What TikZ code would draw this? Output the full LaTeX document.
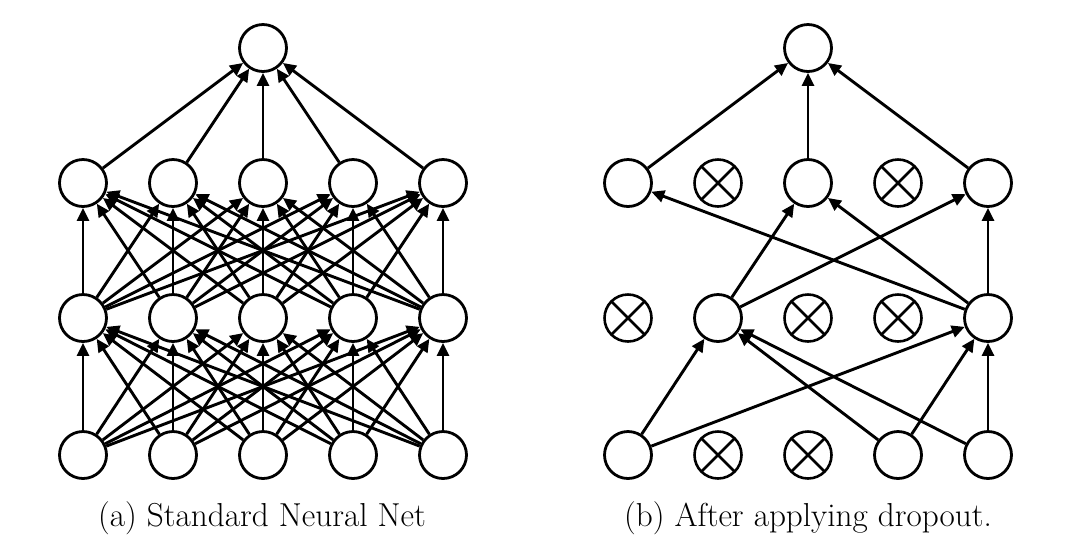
\documentclass[tikz,border=0pt]{standalone}
\usetikzlibrary{arrows.meta}
\begin{document}
\begin{tikzpicture}[x=0.5pt,y=-0.5pt,
  neuron/.style={circle,draw,line width=1.4pt,minimum size=23.5pt,inner sep=0pt,fill=white},
  dropped/.style={circle,draw,line width=1.3pt,minimum size=23.5pt,inner sep=0pt,
    path picture={\draw[line width=1.3pt] (path picture bounding box.north west)--(path picture bounding box.south east) (path picture bounding box.north east)--(path picture bounding box.south west);}},
  conn/.style={line width=1.45pt,-{Triangle[length=6.5pt,width=6pt]}},
  caption/.style={font=\fontsize{16.6}{19}\selectfont,anchor=base}]
\useasboundingbox (0,0) rectangle (1075,548);
% left network
\foreach \i/\x in {1/83,2/173,3/263,4/353,5/443}{
  \node[neuron] (La\i) at (\x,455) {};
  \node[neuron] (Lb\i) at (\x,318) {};
  \node[neuron] (Lc\i) at (\x,183) {};
}
\node[neuron] (Lt) at (263,48) {};
\foreach \i in {1,...,5}{
  \foreach \j in {1,...,5}{
    \draw[conn] (La\i) -- (Lb\j);
    \draw[conn] (Lb\i) -- (Lc\j);
  }
  \draw[conn] (Lc\i) -- (Lt);
}
% right network
\node[neuron] (Ra1) at (628,455) {};
\node[dropped] (Ra2) at (718,455) {};
\node[dropped] (Ra3) at (808,455) {};
\node[neuron] (Ra4) at (898,455) {};
\node[neuron] (Ra5) at (988,455) {};
\node[dropped] (Rb1) at (628,318) {};
\node[neuron] (Rb2) at (718,318) {};
\node[dropped] (Rb3) at (808,318) {};
\node[dropped] (Rb4) at (898,318) {};
\node[neuron] (Rb5) at (988,318) {};
\node[neuron] (Rc1) at (628,183) {};
\node[dropped] (Rc2) at (718,183) {};
\node[neuron] (Rc3) at (808,183) {};
\node[dropped] (Rc4) at (898,183) {};
\node[neuron] (Rc5) at (988,183) {};
\node[neuron] (Rt) at (808,48) {};
\foreach \a/\b in {Ra1/Rb2,Ra1/Rb5,Ra4/Rb2,Ra4/Rb5,Ra5/Rb2,Ra5/Rb5,
  Rb2/Rc3,Rb2/Rc5,Rb5/Rc1,Rb5/Rc3,Rb5/Rc5,Rc1/Rt,Rc3/Rt,Rc5/Rt}
  \draw[conn] (\a) -- (\b);
\node[caption] (capa) at (262,526) {(a) Standard Neural Net};
\node[caption] (capb) at (808,526) {(b) After applying dropout.};
\end{tikzpicture}
\end{document}
